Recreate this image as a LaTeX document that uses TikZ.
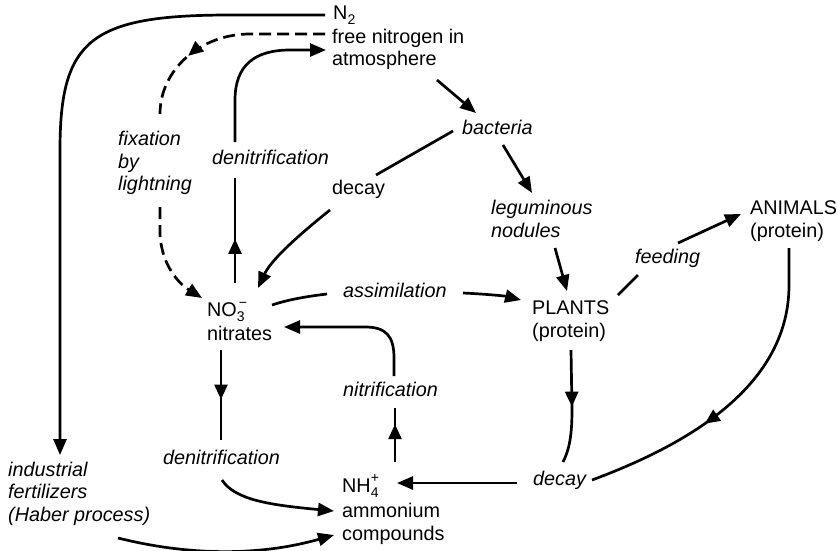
\documentclass[tikz,border=0pt]{standalone}
\usepackage{fontspec}
\setmainfont{Liberation Sans}
\usetikzlibrary{arrows.meta,decorations.markings}

% small raised / lowered characters for the chemical formulas
\newcommand{\chemsmall}[1]{{\fontsize{14}{14}\selectfont #1}}

\begin{document}
\begin{tikzpicture}[x=1pt,y=-1pt,
  lbl/.style={inner sep=0pt,anchor=base west,font=\fontsize{19.8}{23}\selectfont},
  proc/.style={lbl,font=\fontsize{19.8}{23}\selectfont\itshape},
  flow/.style={line width=2.7pt,line join=round},
  tipped/.style={flow,-{Triangle[length=16pt,width=13pt]}},
  brokenline/.style={flow,dash pattern=on 12pt off 6pt},
  midtip/.style={postaction={decorate},decoration={markings,
    mark=at position #1 with {\arrow{Triangle[length=15pt,width=13pt]}}}}
]
\useasboundingbox (0,0) rectangle (838,550);

% ---- labels ----
\node[lbl] (n2)    at (333,19)  {N\raisebox{-5pt}{\chemsmall{2}}};
\node[lbl] (air1)  at (332,43)  {free nitrogen in};
\node[lbl] (air2)  at (332,65)  {atmosphere};
\node[proc] (bact) at (462,134) {bacteria};
\node[lbl] (decay1) at (332,194) {decay};
\node[proc] (fix1) at (118,145) {fixation};
\node[proc] (fix2) at (118,168) {by};
\node[proc] (fix3) at (118,190) {lightning};
\node[proc] (denit1) at (212,164) {denitrification};
\node[proc] (legum1) at (491,214) {leguminous};
\node[proc] (legum2) at (491,237) {nodules};
\node[proc] (feed) at (635,263) {feeding};
\node[lbl] (anim1) at (750,214) {ANIMALS};
\node[lbl] (anim2) at (750,237) {(protein)};
\node[lbl] (plant1) at (532,314) {PLANTS};
\node[lbl] (plant2) at (532,337) {(protein)};
\node[lbl] (no3)   at (207,316) {NO\rlap{\raisebox{-5pt}{\chemsmall{3}}}\raisebox{9pt}{\hspace{2pt}\chemsmall{−}}};
\node[lbl] (nitr)  at (207,340) {nitrates};
\node[proc] (assim) at (343,297) {assimilation};
\node[proc] (nitrif) at (343,396) {nitrification};
\node[proc] (denit2) at (163,464) {denitrification};
\node[proc] (ind1) at (8,476) {industrial};
\node[proc] (ind2) at (8,498) {fertilizers};
\node[proc] (ind3) at (8,521) {(Haber process)};
\node[lbl] (nh4)   at (342,492) {NH\rlap{\raisebox{10pt}{\chemsmall{+}}}\raisebox{-5pt}{\chemsmall{4}}};
\node[lbl] (amm1)  at (342,517) {ammonium};
\node[lbl] (amm2)  at (342,540) {compounds};
\node[proc] (decay2) at (533,485) {decay};

% ---- connector end points ----
\coordinate (n2out)    at (325,15);
\coordinate (indin)    at (60,455);
\coordinate (airdash)  at (325,34);
\coordinate (fixtop)   at (160,114);
\coordinate (fixbot)   at (160,207);
\coordinate (no3left)  at (202,298);
\coordinate (no3top)   at (235,283);
\coordinate (denitlo)  at (235,178);
\coordinate (denithi)  at (235,142);
\coordinate (airleft)  at (326,50);
\coordinate (airout)   at (437,80);
\coordinate (bactin)   at (476,113);
\coordinate (bactl)    at (453,131);
\coordinate (decayin)  at (376,175);
\coordinate (decayout) at (330,210);
\coordinate (no3right) at (258,288);
\coordinate (bactr)    at (503,145);
\coordinate (legin)    at (532,193);
\coordinate (legout)   at (555,248);
\coordinate (plantin)  at (567,291);
\coordinate (plantr)   at (618,295);
\coordinate (feedin)   at (638,275);
\coordinate (feedout)  at (678,243);
\coordinate (animin)   at (741,214);
\coordinate (animout)  at (789,248);
\coordinate (decayr)   at (592,480);
\coordinate (plantbot) at (571,350);
\coordinate (decaytop) at (563,462);
\coordinate (decayl)   at (517,483);
\coordinate (nh4in)    at (397,483);
\coordinate (nh4top)   at (395,462);
\coordinate (nitriflo) at (395,408);
\coordinate (nitrifhi) at (394,376);
\coordinate (nitrin)   at (284,327);
\coordinate (nitrbot)  at (221,350);
\coordinate (denit2hi) at (221,440);
\coordinate (denit2lo) at (222,480);
\coordinate (ammin)    at (334,511);
\coordinate (indout)   at (118,538);
\coordinate (compin)   at (334,535);
\coordinate (no3out)   at (272,305);
\coordinate (assimin)  at (327,294);
\coordinate (assimout) at (463,293);
\coordinate (plantl)   at (521,300);

% ---- connectors ----
% industrial fixation
\draw[tipped] (n2out) -- (230,15) .. controls (90,15) and (60,40) .. (60,150) -- (indin);
% fixation by lightning
\draw[brokenline,midtip=0.68] (airdash) -- (250,34) .. controls (200,34) and (160,70) .. (fixtop);
\draw[brokenline,-{Triangle[length=16pt,width=13pt]}] (fixbot) -- (160,235) .. controls (162,265) and (178,283) .. (no3left);
% denitrification back to the atmosphere
\draw[flow,midtip=0.42] (no3top) -- (denitlo);
\draw[tipped] (denithi) -- (235,100) .. controls (235,65) and (255,50) .. (290,50) -- (airleft);
% atmosphere to bacteria
\draw[tipped] (airout) -- (bactin);
% bacteria, decay, nitrates
\draw[flow] (bactl) -- (decayin);
\draw[tipped] (decayout) .. controls (305,230) and (272,258) .. (no3right);
% bacteria to nodules to plants
\draw[tipped] (bactr) -- (legin);
\draw[tipped] (legout) -- (plantin);
% feeding
\draw[flow] (plantr) -- (feedin);
\draw[tipped] (feedout) -- (animin);
% animals to decay
\draw[flow,midtip=0.62] (animout) -- (789,285) .. controls (789,380) and (700,440) .. (decayr);
% plants to decay
\draw[flow,midtip=0.5] (plantbot) -- (572,410) .. controls (572,440) and (568,452) .. (decaytop);
% decay to ammonium
\draw[tipped] (decayl) -- (nh4in);
% nitrification
\draw[flow,midtip=0.7] (nh4top) -- (nitriflo);
\draw[tipped] (nitrifhi) -- (394,358) .. controls (394,336) and (386,327) .. (365,327) -- (nitrin);
% denitrification to ammonium
\draw[flow,midtip=0.55] (nitrbot) -- (denit2hi);
\draw[tipped] (denit2lo) .. controls (235,500) and (270,505) .. (ammin);
% fertilizers to ammonium
\draw[tipped] (indout) .. controls (190,556) and (260,556) .. (compin);
% assimilation
\draw[flow] (no3out) .. controls (290,299) and (310,296) .. (assimin);
\draw[tipped] (assimout) .. controls (485,294) and (505,296) .. (plantl);
\end{tikzpicture}
\end{document}
